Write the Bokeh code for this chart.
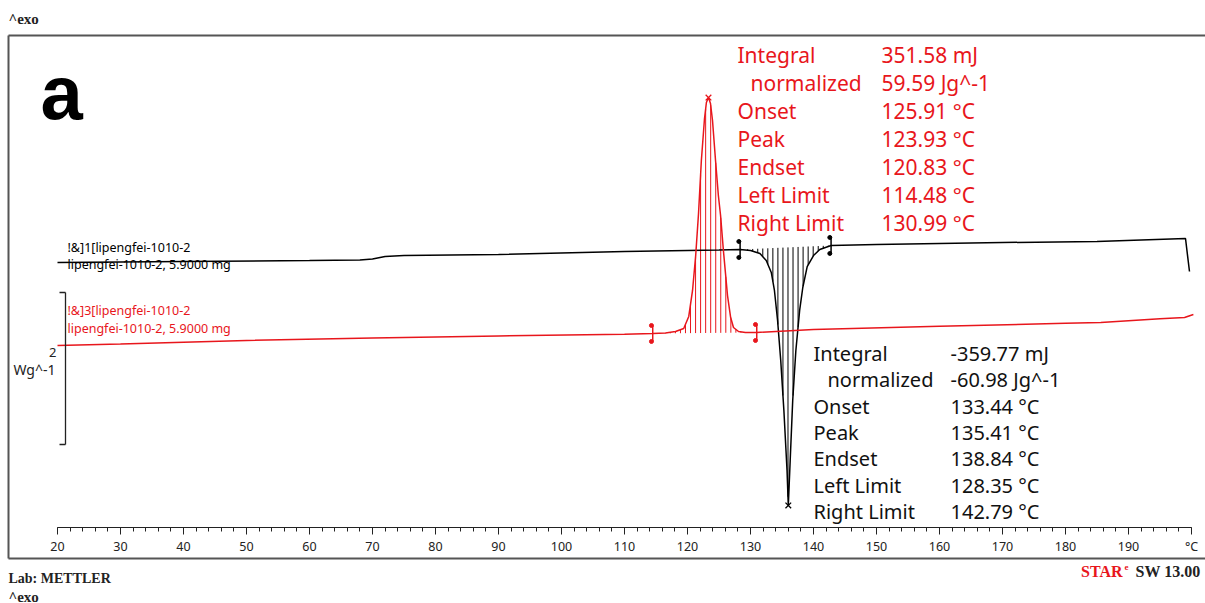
import numpy as np
from bokeh.plotting import figure
from bokeh.models import LinearAxis, FixedTicker, Label
from bokeh.core.properties import value
from bokeh.embed import file_html
from bokeh.resources import INLINE

# ---------------- data (temperature in °C, heat flow in W/g) -------------
BLACK_T = [20.0, 40.0, 60.0, 68.0, 70.0, 72.0, 75.0, 90.0, 110.0, 125.0, 128.35, 130.0, 131.5,
           132.5, 133.3, 133.8, 134.3, 134.8, 135.3, 135.8, 136.0, 136.3, 136.7, 137.2, 137.8,
           138.3, 139.0, 140.0, 141.0, 142.79, 150.0, 170.0, 185.0, 199.05, 199.35, 199.68]
BLACK_W = [1.092, 1.105, 1.118, 1.125, 1.138, 1.171, 1.184, 1.197, 1.237, 1.257, 1.263, 1.250, 1.211,
           1.118, 0.961, 0.724, 0.329, -0.197, -0.855, -1.645, -2.105, -1.513, -0.724, -0.066, 0.461,
           0.763, 1.039, 1.184, 1.263, 1.316, 1.329, 1.355, 1.368, 1.408, 1.200, 0.974]

RED_T = [20.0, 30.0, 50.0, 70.0, 90.0, 110.0, 114.48, 116.5, 118.1, 119.4, 120.2, 120.8, 121.3,
         121.75, 122.2, 122.7, 123.0, 123.33, 123.65, 123.97, 124.45, 124.9, 125.25, 125.7, 126.35,
         126.85, 127.3, 128.1, 129.2, 130.99, 140.0, 160.0, 180.0, 185.6, 195.0, 198.9, 200.3]
RED_W = [0.000, 0.020, 0.066, 0.099, 0.125, 0.147, 0.158, 0.164, 0.184, 0.224, 0.382, 0.724, 1.184,
         1.737, 2.434, 2.987, 3.197, 3.263, 3.184, 2.961, 2.434, 1.974, 1.711, 1.250, 0.658,
         0.368, 0.237, 0.184, 0.171, 0.171, 0.211, 0.253, 0.292, 0.303, 0.351, 0.368, 0.408]

RED_LIMITS = (114.48, 130.99)
BLACK_LIMITS = (128.35, 142.79)

X_TICKS = list(range(20, 201, 10))
X_MINOR_TICKS = list(range(20, 201, 2))
X_TICK_OVERRIDES = {200: "°C"}

RESULT_LABELS = ["Integral", "normalized", "Onset", "Peak", "Endset", "Left Limit", "Right Limit"]
RED_VALUES = ["351.58 mJ", "59.59 Jg^-1", "125.91 °C", "123.93 °C", "120.83 °C", "114.48 °C", "130.99 °C"]
BLACK_VALUES = ["-359.77 mJ", "-60.98 Jg^-1", "133.44 °C", "135.41 °C", "138.84 °C", "128.35 °C", "142.79 °C"]

BLACK_CURVE_LABEL = ["!&]1[lipengfei-1010-2", "lipengfei-1010-2, 5.9000 mg"]
RED_CURVE_LABEL = ["!&]3[lipengfei-1010-2", "lipengfei-1010-2, 5.9000 mg"]

SCALE_BAR_WG = 2.0

# ---------------- layout helpers (pixel -> data) ----------------
W_PX, H_PX = 1205, 603
PX_PER_DEG = 6.3
PX_PER_WG = 76.0


def tx(px):
    return 20 + (px - 57) / PX_PER_DEG


def wy(py):
    return (345 - py) / PX_PER_WG


RED = "#e8161c"
TEXT_FONT = "Noto Sans"

p = figure(width=W_PX, height=H_PX, x_range=(tx(0), tx(W_PX)), y_range=(wy(H_PX), wy(0)),
           output_backend="svg", toolbar_location=None, min_border=0,
           x_axis_type=None, y_axis_type=None)
p.outline_line_color = None
p.background_fill_color = "white"
p.border_fill_color = "white"

# frame box (top, left, bottom edges; right edge lies outside the picture)
p.multi_line(xs=[[tx(8), tx(1215)], [tx(8), tx(8)], [tx(8), tx(1215)]],
             ys=[[wy(35), wy(35)], [wy(35), wy(558)], [wy(558), wy(558)]],
             line_color="#555555", line_width=2)

# x axis inside the box
ax = LinearAxis(fixed_location=wy(527),
                ticker=FixedTicker(ticks=X_TICKS, minor_ticks=X_MINOR_TICKS),
                bounds=(20, 200), major_label_overrides=X_TICK_OVERRIDES)
ax.axis_line_color = "#222222"
ax.axis_line_width = 1.2
ax.major_tick_in = 0
ax.major_tick_out = 7
ax.minor_tick_in = 0
ax.minor_tick_out = 4
ax.major_tick_line_color = "#222222"
ax.minor_tick_line_color = "#222222"
ax.major_label_standoff = 3
ax.major_label_text_font = TEXT_FONT
ax.major_label_text_font_size = "12.5px"
ax.major_label_text_color = "#222222"
p.add_layout(ax, "below")


# integration hatching
def hatch(T, W, lim, step=0.8):
    L, R = lim
    yL = np.interp(L, T, W)
    yR = np.interp(R, T, W)
    xs = np.arange(L + step / 2, R, step)
    base = np.interp(xs, [L, R], [yL, yR])
    top = np.interp(xs, T, W)
    return xs, base, top, (L, yL), (R, yR)


for T, W, lim, col in [(RED_T, RED_W, RED_LIMITS, RED), (BLACK_T, BLACK_W, BLACK_LIMITS, "black")]:
    xs, base, top, pL, pR = hatch(T, W, lim)
    p.segment(x0=xs, y0=base, x1=xs, y1=top, line_color=col, line_width=1)
    # limit markers
    for (lx, ly) in (pL, pR):
        h = 8 / PX_PER_WG
        p.segment(x0=[lx], y0=[ly - h], x1=[lx], y1=[ly + h], line_color=col, line_width=1.5)
        p.scatter(x=[lx - 0.2, lx - 0.2], y=[ly - h, ly + h], size=4, marker="circle",
                  fill_color=col, line_color=col)

# curves
p.line(BLACK_T, BLACK_W, line_color="black", line_width=1.5)
p.line(RED_T, RED_W, line_color=RED, line_width=1.5)

# peak markers
ri = int(np.argmax(RED_W))
bi = int(np.argmin(BLACK_W))
p.scatter(x=[RED_T[ri]], y=[RED_W[ri]], marker="x", size=8, line_color=RED, line_width=1.3)
p.scatter(x=[BLACK_T[bi]], y=[BLACK_W[bi]], marker="x", size=8, line_color="black", line_width=1.3)

# curve labels
p.text(x=[tx(67)] * 2, y=[wy(247), wy(264)], text=BLACK_CURVE_LABEL, text_color="black",
       text_font=value(TEXT_FONT), text_font_size=value("12.5px"), text_baseline="middle")
p.text(x=[tx(67)] * 2, y=[wy(310), wy(328)], text=RED_CURVE_LABEL, text_color=RED,
       text_font=value(TEXT_FONT), text_font_size=value("12.5px"), text_baseline="middle")

# result tables
n = len(RESULT_LABELS)
red_y = [wy(54 + 28.0 * i) for i in range(n)]
red_lx = [tx(750) if i == 1 else tx(737) for i in range(n)]
p.text(x=red_lx, y=red_y, text=RESULT_LABELS, text_color=RED, text_font=value(TEXT_FONT),
       text_font_size=value("21px"), text_baseline="middle")
p.text(x=[tx(881)] * n, y=red_y, text=RED_VALUES, text_color=RED,
       text_font=value(TEXT_FONT), text_font_size=value("21px"), text_baseline="middle")

blk_y = [wy(353 + 26.3 * i) for i in range(n)]
blk_lx = [tx(827) if i == 1 else tx(813) for i in range(n)]
p.text(x=blk_lx, y=blk_y, text=RESULT_LABELS, text_color="#111111", text_font=value(TEXT_FONT),
       text_font_size=value("20px"), text_baseline="middle")
p.text(x=[tx(950)] * n, y=blk_y, text=BLACK_VALUES, text_color="#111111",
       text_font=value(TEXT_FONT), text_font_size=value("20px"), text_baseline="middle")

# scale bar (2 W/g)
sb_x = tx(65)
sb_top = wy(292)
sb_bot = sb_top - SCALE_BAR_WG
p.segment(x0=[sb_x, tx(59), tx(59)], y0=[sb_top, sb_top, sb_bot], x1=[sb_x, sb_x, sb_x],
          y1=[sb_bot, sb_top, sb_bot], line_color="#222222", line_width=1.3)
p.add_layout(Label(x=tx(56), y=wy(352), text="2", text_align="right", text_baseline="middle",
                   text_font=TEXT_FONT, text_font_size="13px", text_color="#222222"))
p.add_layout(Label(x=tx(55), y=wy(369), text="Wg^-1", text_align="right", text_baseline="middle",
                   text_font=TEXT_FONT, text_font_size="14px", text_color="#222222"))

# panel letter
p.add_layout(Label(x=tx(40), y=wy(92), text="a", text_baseline="middle",
                   text_font="Liberation Sans", text_font_style="bold", text_font_size="76px",
                   text_color="black"))

# page texts
SERIF = "Liberation Serif"
p.add_layout(Label(x=tx(8), y=wy(18), text="^exo", text_baseline="middle", text_font=SERIF,
                   text_font_size="15px", text_font_style="bold", text_color="#222222"))
p.add_layout(Label(x=tx(8), y=wy(578), text="Lab:  METTLER", text_baseline="middle", text_font=SERIF,
                   text_font_size="14px", text_font_style="bold", text_color="#222222"))
p.add_layout(Label(x=tx(8), y=wy(596), text="^exo", text_baseline="middle", text_font=SERIF,
                   text_font_size="15px", text_font_style="bold", text_color="#222222"))
p.add_layout(Label(x=tx(1204), y=wy(571), text="SW  13.00", text_align="right", text_baseline="middle",
                   text_font=SERIF, text_font_size="16px", text_font_style="bold", text_color="#222222"))
p.add_layout(Label(x=tx(1128), y=wy(566), text="e", text_align="right", text_baseline="middle",
                   text_font=SERIF, text_font_size="9px", text_font_style="bold", text_color=RED))
p.add_layout(Label(x=tx(1122), y=wy(571), text="STAR", text_align="right", text_baseline="middle",
                   text_font=SERIF, text_font_size="16px", text_font_style="bold", text_color=RED))

open("out.html", "w").write(file_html(p, INLINE))
